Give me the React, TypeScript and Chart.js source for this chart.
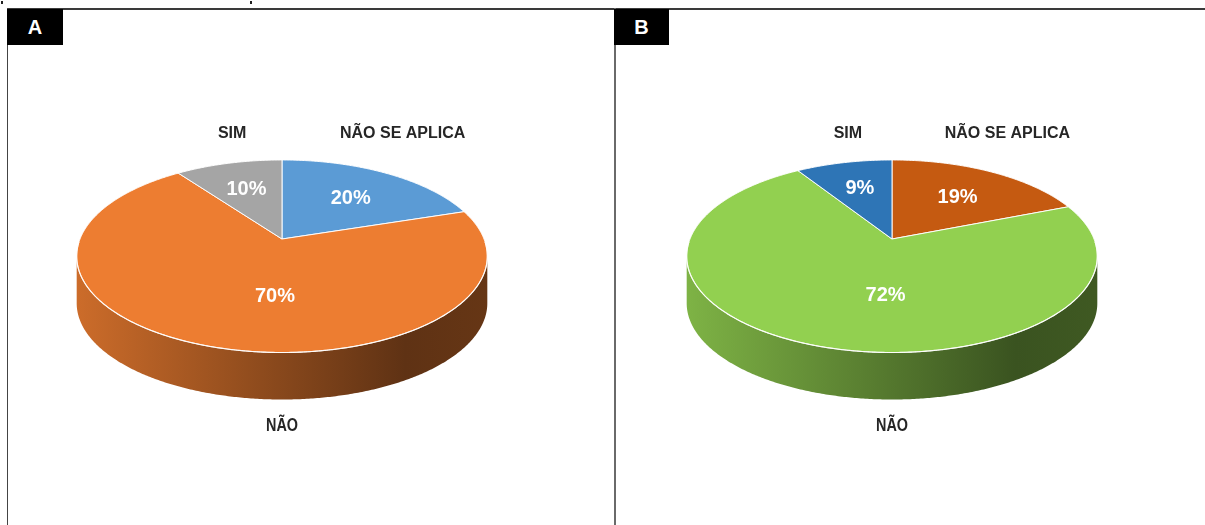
import React, { useEffect, useRef } from 'react';
import { Chart, registerables } from 'chart.js';

Chart.register(...registerables);

// Slices, clockwise from 12 o'clock
const categories = ['NÃO SE APLICA', 'NÃO', 'SIM'];
const valuesA = [20, 70, 10];
const valuesB = [19, 72, 9];
const coloursA = ['#5b9bd5', '#ed7d31', '#a5a5a5'];
const coloursB = ['#c55a11', '#92d050', '#2e75b6'];
const panelTags = ['A', 'B'];

// 3D look: vertical squash of the disc, perspective strength and extrusion depth
const TILT = 0.4614;
const PERSPECTIVE = 0.179;
const DEPTH = 47;

const FONT = '"Liberation Sans", Arial, sans-serif';

function shade(hex: string, f: number) {
  const n = parseInt(hex.slice(1), 16);
  const r = Math.round(((n >> 16) & 255) * f);
  const g = Math.round(((n >> 8) & 255) * f);
  const b = Math.round((n & 255) * f);
  return `rgb(${r},${g},${b})`;
}

function polyCentroid(pts: number[][]) {
  let a = 0, x = 0, y = 0;
  for (let i = 0; i < pts.length; i++) {
    const [x1, y1] = pts[i];
    const [x2, y2] = pts[(i + 1) % pts.length];
    const c = x1 * y2 - x2 * y1;
    a += c;
    x += (x1 + x2) * c;
    y += (y1 + y2) * c;
  }
  a /= 2;
  if (Math.abs(a) < 1e-6) return { a: 0, x: 0, y: 0 };
  return { a: Math.abs(a), x: x / (6 * a), y: y / (6 * a) };
}

// Draws the pie as a tilted, extruded disc using the arc angles Chart.js computed
const pie3d = {
  id: 'pie3d',
  beforeDatasetsDraw(chart: any) {
    const ctx: CanvasRenderingContext2D = chart.ctx;
    const arcs: any[] = chart.getDatasetMeta(0).data;
    if (!arcs.length) return false;
    const cx = arcs[0].x;
    const cy = arcs[0].y;
    const A = arcs[0].outerRadius;
    const B = A * TILT;
    const p = PERSPECTIVE;
    const H = DEPTH;
    const ds = chart.data.datasets[0];
    const colours: string[] = ds.backgroundColor;
    const values: number[] = ds.data;
    const labels: string[] = chart.data.labels;

    const proj = (r: number, t: number, h = 0) => {
      const w = 1 - p * r * Math.sin(t);
      return [cx + (A * r * Math.cos(t)) / w, cy + (B * r * Math.sin(t)) / w + h];
    };
    const arcPts = (s: number, e: number, h: number) => {
      const n = Math.max(2, Math.ceil(Math.abs(e - s) / (Math.PI / 360)));
      const pts: number[][] = [];
      for (let i = 0; i <= n; i++) pts.push(proj(1, s + ((e - s) * i) / n, h));
      return pts;
    };
    const tracePath = (pts: number[][]) => {
      ctx.beginPath();
      pts.forEach(([x, y], i) => (i ? ctx.lineTo(x, y) : ctx.moveTo(x, y)));
      ctx.closePath();
    };

    const tR = Math.asin(p);
    const tL = Math.PI - tR;
    const xL = proj(1, tL)[0];
    const xR = proj(1, tR)[0];

    ctx.save();
    const wallPolys: number[][][] = [];
    const topPolys: number[][][] = [];

    // outer side wall (front half only)
    arcs.forEach((arc, i) => {
      const s = Math.max(arc.startAngle, tR);
      const e = Math.min(arc.endAngle, tL);
      if (e <= s) {
        wallPolys.push([]);
        return;
      }
      const poly = [...arcPts(s, e, 0), ...arcPts(e, s, H)];
      wallPolys.push(poly);
      const g = ctx.createLinearGradient(xL, 0, xR, 0);
      g.addColorStop(0, shade(colours[i], 0.86));
      g.addColorStop(0.45, shade(colours[i], 0.6));
      g.addColorStop(0.8, shade(colours[i], 0.4));
      g.addColorStop(1, shade(colours[i], 0.43));
      tracePath(poly);
      ctx.fillStyle = g;
      ctx.fill();
    });

    // top face
    arcs.forEach((arc, i) => {
      const poly = [[cx, cy], ...arcPts(arc.startAngle, arc.endAngle, 0)];
      topPolys.push(poly);
      tracePath(poly);
      ctx.fillStyle = colours[i];
      ctx.fill();
      ctx.strokeStyle = 'rgba(255,255,255,0.95)';
      ctx.lineWidth = 1;
      ctx.lineJoin = 'round';
      ctx.stroke();
    });

    // light rim along the front edge of the top face
    ctx.beginPath();
    arcPts(tR - 0.15, tL + 0.15, 0).forEach(([x, y], i) => (i ? ctx.lineTo(x, y) : ctx.moveTo(x, y)));
    ctx.strokeStyle = 'rgba(255,255,255,0.85)';
    ctx.lineWidth = 1.2;
    ctx.stroke();

    // percentage labels at the visual centre of each slice
    ctx.fillStyle = '#ffffff';
    ctx.font = `bold 20px ${FONT}`;
    ctx.textAlign = 'center';
    ctx.textBaseline = 'middle';
    arcs.forEach((_arc, i) => {
      const parts = [polyCentroid(topPolys[i])];
      if (wallPolys[i].length) parts.push(polyCentroid(wallPolys[i]));
      let a = 0, x = 0, y = 0;
      parts.forEach((c) => {
        a += c.a;
        x += c.x * c.a;
        y += c.y * c.a;
      });
      ctx.fillText(`${values[i]}%`, x / a, y / a);
    });

    // category names outside the disc
    const topY = cy - B / (1 + p);
    const botY = cy + B / (1 - p) + H;
    ctx.fillStyle = '#262626';
    arcs.forEach((arc, i) => {
      const s = arc.startAngle;
      const e = arc.endAngle;
      let x: number;
      let y: number;
      if (s <= Math.PI / 2 && e >= Math.PI / 2) {
        x = proj(1, Math.PI / 2)[0];
        y = botY + 26;
        ctx.save();
        ctx.translate(x, y);
        ctx.scale(0.9, 1.15);
        ctx.font = `bold 16px ${FONT}`;
        ctx.fillText(labels[i], 0, 0);
        ctx.restore();
        return;
      }
      const m = (s + e) / 2;
      x = proj(1.1, m)[0] + 8;
      y = Math.sin(m) < 0 ? topY - 26 : botY + 26;
      ctx.font = `bold 16px ${FONT}`;
      ctx.fillText(labels[i], x, y);
    });

    ctx.restore();
    return false;
  },
};

type PieProps = {
  values: number[];
  colours: string[];
  width: number;
  height: number;
  padding: { left: number; right: number; top: number; bottom: number };
};

function Pie3D({ values, colours, width, height, padding }: PieProps) {
  const ref = useRef<HTMLCanvasElement>(null);
  useEffect(() => {
    const chart = new Chart(ref.current as HTMLCanvasElement, {
      type: 'pie',
      data: {
        labels: categories,
        datasets: [{ data: values, backgroundColor: colours, borderWidth: 0 }],
      },
      options: {
        responsive: false,
        animation: false,
        layout: { padding },
        plugins: { legend: { display: false }, tooltip: { enabled: false } },
      },
      plugins: [pie3d as any],
    });
    return () => chart.destroy();
  }, [values, colours]);
  return <canvas ref={ref} width={width} height={height} style={{ display: 'block' }} />;
}

const tagStyle = (left: number, width: number): React.CSSProperties => ({
  position: 'absolute',
  left,
  top: 9,
  width,
  height: 36,
  background: '#000',
  color: '#fff',
  font: `bold 20px ${FONT}`,
  display: 'flex',
  alignItems: 'center',
  justifyContent: 'center',
});

export default function App() {
  return (
    <div
      style={{
        position: 'absolute',
        left: 0,
        top: 0,
        width: 1205,
        height: 525,
        background: '#fff',
        overflow: 'hidden',
      }}
    >
      <div style={{ position: 'absolute', left: 8, top: 10 }}>
        <Pie3D
          values={valuesA}
          colours={coloursA}
          width={606}
          height={515}
          padding={{ left: 72, right: 130, top: 27, bottom: 84 }}
        />
      </div>
      <div style={{ position: 'absolute', left: 615, top: 10 }}>
        <Pie3D
          values={valuesB}
          colours={coloursB}
          width={590}
          height={515}
          padding={{ left: 75, right: 111, top: 27, bottom: 84 }}
        />
      </div>

      {/* frame lines */}
      <div style={{ position: 'absolute', left: 7, top: 8, width: 1198, height: 2, background: '#3a3a3a' }} />
      <div style={{ position: 'absolute', left: 7, top: 8, width: 1, height: 517, background: '#444' }} />
      <div style={{ position: 'absolute', left: 614, top: 8, width: 2, height: 517, background: '#6a6a6a' }} />
      <div style={{ position: 'absolute', left: 1, top: 1, width: 2, height: 3, background: '#222' }} />
      <div style={{ position: 'absolute', left: 250, top: 1, width: 2, height: 3, background: '#222' }} />

      {/* panel tags */}
      <div style={tagStyle(7, 56)}>{panelTags[0]}</div>
      <div style={tagStyle(614, 55)}>{panelTags[1]}</div>
    </div>
  );
}
